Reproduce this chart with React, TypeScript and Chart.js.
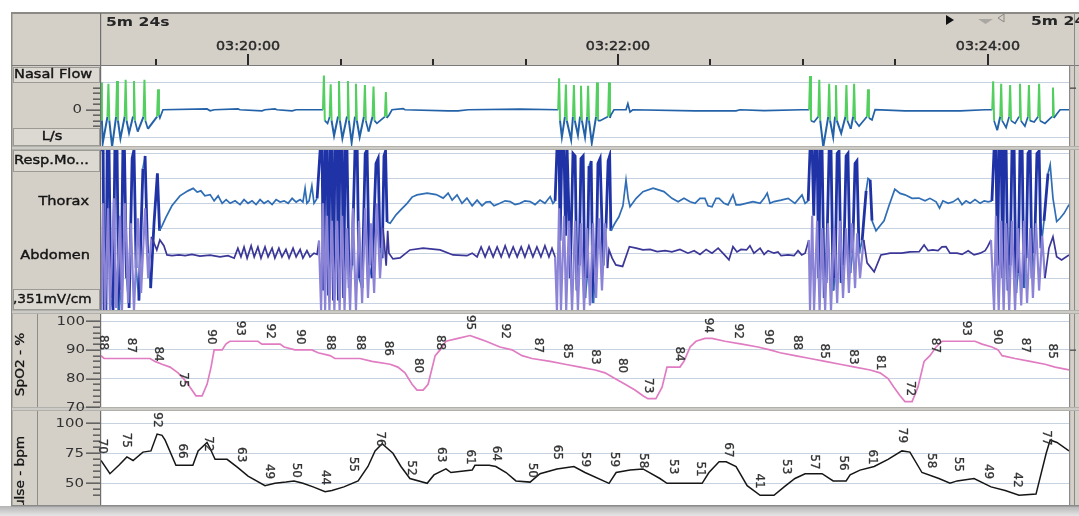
import React, { useEffect, useRef } from 'react';
import { Chart, registerables } from 'chart.js';

Chart.register(...registerables);

type Pt = [number, number];

// ---------- time axis (seconds after 03:19:00) ----------
const windowStart = 12.3;
const windowEnd = 326.3;
const timeTicks = [30, 60, 90, 120, 150, 180, 210, 240, 270, 300];
const timeLabelValues = [60, 180, 300];
const timeLabelTexts = ['03:20:00', '03:22:00', '03:24:00'];
const windowLengthText = '5m 24s';

// ---------- panel axes ----------
const nasalRange = [-1.4, 1.6];
const nasalGrid = [1, -1];
const nasalTickMarks = [0.8, 0.6, 0.4, 0.2, 0, -0.2, -0.4, -0.6];
const nasalMajorTicks = [0];

const respRange = [-3.36, 3.22];
const respGrid = [3, 2, 1, 0, -1, -2, -3];

const spo2Range = [69.4, 103.2];
const spo2Grid = [100, 90, 80, 70];
const spo2TickMarks = [70, 72, 74, 76, 78, 80, 82, 84, 86, 88, 90, 92, 94, 96, 98, 100];
const spo2MajorTicks = [70, 80, 90, 100];

const pulseRange = [31.1, 111.9];
const pulseGrid = [100, 75, 50];
const pulseTickMarks = [40, 45, 50, 55, 60, 65, 70, 75, 80, 85, 90, 95, 100];
const pulseMajorTicks = [50, 75, 100];

// ---------- signals [time s, value] ----------
const nasalFlow: Pt[] = [
  [12.3, 1.0], [12.6, -0.4], [12.9, -1.2], [14.4, -0.25],
  [14.7, 0.95], [15.0, -0.4], [15.9, -1.35], [17.2, -0.25],
  [17.5, 1.05], [17.8, -0.4], [18.6, -1.05], [20.0, -0.25],
  [20.3, 1.1], [20.6, -0.4], [21.4, -0.85], [22.7, -0.25],
  [23.0, 1.05], [23.3, -0.4], [24.2, -0.8], [26.1, -0.25],
  [26.4, 1.1], [26.7, -0.4], [27.5, -0.7], [30.5, -0.25],
  [30.8, 0.75], [31.1, -0.2], [31.4, -0.3], [32.4, 0],
  [46.7, 0.03], [47.7, -0.04], [49.0, 0], [56.7, 0.03], [57.4, 0], [64.5, -0.04], [65.5, 0],
  [68.7, 0.03], [69.4, 0], [74.3, -0.04], [75.6, 0], [84.3, 0],
  [84.6, 1.25], [84.9, -0.4], [85.8, -0.5], [86.5, -0.25],
  [86.8, 0.93], [87.1, -0.4], [87.9, -0.95], [89.2, -0.25],
  [89.5, 1.05], [89.8, -0.4], [90.6, -1.05], [92.1, -0.25],
  [92.4, 1.05], [92.7, -0.4], [93.6, -1.2], [94.7, -0.25],
  [95.0, 0.95], [95.3, -0.4], [96.2, -1.0], [97.6, -0.25],
  [97.9, 0.9], [98.2, -0.4], [99.1, -0.8], [100.4, -0.25],
  [100.7, 0.85], [101.0, -0.4], [101.8, -0.5], [104.4, -0.25],
  [104.7, 0.65], [105.0, -0.3], [105.7, -0.2], [106.7, 0],
  [110.3, 0.04], [110.9, 0], [124.9, -0.04], [128.1, -0.04], [131.4, 0], [148.2, 0.02], [160.6, 0],
  [160.9, 1.15], [161.2, -0.4], [161.8, -1.0], [162.8, -0.25],
  [163.1, 0.92], [163.4, -0.4], [164.8, -1.1], [165.4, -0.25],
  [165.7, 0.9], [166.0, -0.4], [167.0, -0.93], [167.7, -0.25],
  [168.0, 0.88], [168.3, -0.4], [169.3, -1.0], [170.0, -0.25],
  [170.3, 0.88], [170.6, -0.4], [171.5, -1.22], [172.9, -0.25],
  [173.2, 1.0], [173.5, -0.4], [174.2, -0.4], [176.8, -0.25],
  [177.1, 1.0], [177.4, -0.3], [177.7, -0.2], [178.7, 0],
  [182.6, 0], [183.2, 0.22], [183.9, -0.08], [184.8, 0], [205.0, -0.04], [218.3, -0.04], [219.6, 0],
  [227.4, -0.03], [239.7, 0], [242.0, 0],
  [242.3, 1.23], [242.6, -0.4], [243.6, -0.45], [245.0, -0.25],
  [245.3, 1.1], [245.6, -0.4], [246.6, -1.36], [248.2, -0.25],
  [248.5, 0.95], [248.8, -0.4], [249.8, -1.0], [250.4, -0.25],
  [250.7, 0.9], [251.0, -0.4], [252.4, -0.86], [253.8, -0.25],
  [254.1, 0.9], [254.4, -0.4], [255.5, -0.7], [256.3, -0.25],
  [256.6, 0.95], [256.9, -0.4], [258.2, -0.6], [260.8, -0.25],
  [261.1, 0.75], [261.4, -0.3], [262.4, -0.37], [263.4, 0],
  [273.1, -0.04], [291.0, -0.04], [299.1, 0], [301.4, 0],
  [301.7, 1.04], [302.0, -0.4], [303.0, -0.75], [304.0, -0.25],
  [304.3, 0.95], [304.6, -0.4], [305.9, -0.65], [306.9, -0.25],
  [307.2, 0.9], [307.5, -0.4], [308.8, -0.5], [310.1, -0.25],
  [310.4, 0.95], [310.7, -0.4], [312.0, -0.6], [313.0, -0.25],
  [313.3, 0.9], [313.6, -0.4], [315.0, -0.45], [316.3, -0.25],
  [316.6, 0.95], [316.9, -0.4], [318.5, -0.5], [320.8, -0.25],
  [321.1, 0.81], [321.4, -0.3], [322.4, -0.15], [323.4, 0], [326.3, 0],
];

const thorax: Pt[] = [
  [12.3, 3.15], [13.0, 3.15], [13.3, -3.3], [13.9, -3.3], [14.3, 3.15], [14.9, 3.15], [15.5, -2.8], [16.2, -3.3],
  [16.8, 3.15], [17.5, 3.15], [18.1, -3.3], [18.8, -2.5], [19.4, 3.15], [19.9, 3.15], [20.6, -2.0], [21.4, -3.2],
  [22.4, 2.8], [23.0, 3.15], [23.7, -1.6], [24.6, -2.9], [25.9, 2.4], [26.6, 2.9], [27.4, -1.0], [28.4, -2.4],
  [29.5, 0.2], [30.6, 2.2], [31.3, -0.1], [32.1, 0.1],
  [33.4, 0.45], [35.3, 0.9], [37.9, 1.3], [40.5, 1.5], [42.2, 1.6], [43.5, 1.45], [44.7, 1.5], [46.0, 1.3],
  [47.7, 1.35], [49.0, 1.1], [50.3, 1.3], [51.6, 1.0], [52.9, 1.15], [54.2, 1.0], [55.8, 1.1], [57.4, 0.95],
  [58.7, 1.15], [60.0, 1.0], [61.3, 1.1], [62.6, 0.95], [63.9, 1.15], [65.2, 1.0], [66.5, 1.1], [67.8, 0.95],
  [69.1, 1.15], [70.4, 1.05], [71.7, 1.1], [73.0, 1.0], [74.3, 1.2], [75.6, 1.05], [76.9, 1.15], [77.8, 1.05],
  [78.5, 1.6], [79.1, 1.0], [79.8, 1.1], [80.7, 1.7], [81.4, 1.0], [82.4, 1.2],
  [83.4, 3.15], [84.0, 3.15], [84.5, -2.5], [85.0, 3.15], [85.6, 3.15], [86.1, -2.7], [86.6, 3.15], [87.2, 3.15],
  [87.7, -2.9], [88.2, 3.15], [88.9, 3.15], [89.3, -2.9], [89.8, 3.15], [90.5, 3.15], [91.0, -2.8], [91.5, 3.15],
  [92.1, 3.15], [92.8, -2.4], [93.7, -1.5], [94.7, 3.15], [95.4, 3.15], [96.0, -2.0], [97.0, -2.4], [98.0, 3.0],
  [98.6, 3.15], [99.3, -1.5], [100.2, -2.0], [101.5, 2.6], [102.2, 2.8], [102.8, -0.8], [103.5, -1.2], [104.1, 2.9],
  [104.6, 3.1], [105.1, 0.25],
  [106.1, 0.2], [108.0, 0.54], [110.0, 0.8], [111.6, 1.0], [113.2, 1.25], [114.8, 1.34], [118.1, 1.41], [121.0, 1.35],
  [123.3, 1.21], [124.9, 1.41], [126.2, 1.13], [127.8, 1.34], [129.4, 1.0], [131.0, 1.21], [132.7, 0.9], [134.3, 1.13],
  [135.9, 0.9], [137.2, 1.05], [138.5, 1.07], [139.8, 0.9], [141.7, 1.0], [143.4, 1.1], [145.0, 1.07], [146.6, 0.95],
  [148.2, 1.0], [149.8, 1.1], [151.5, 1.07], [153.1, 0.95], [154.7, 1.13], [156.3, 1.0], [158.0, 1.27], [158.9, 1.0],
  [159.6, 1.1],
  [160.2, 3.15], [160.9, 3.15], [161.2, -0.5], [161.8, 3.15], [162.5, 3.15], [163.0, -0.3], [163.5, 3.15], [164.0, 1.0],
  [164.5, -2.0], [165.4, 3.0], [166.1, 2.9], [166.7, -2.5], [167.4, -1.5], [168.0, 2.8], [168.7, 2.9], [169.3, -2.8],
  [170.0, -2.0], [170.6, 2.5], [171.3, 2.7], [171.9, -3.0], [172.9, -1.8], [173.5, 2.6], [174.2, 2.8], [175.2, -1.5],
  [176.1, 0.0], [176.8, 2.7], [177.3, 2.9], [177.7, -0.1],
  [179.0, 0.2], [180.3, 0.46], [181.6, 0.9], [182.6, 1.94], [183.3, 1.2], [183.9, 0.86], [185.9, 1.2], [188.1, 1.47],
  [191.4, 1.61], [194.9, 1.47], [197.5, 1.2], [199.5, 1.06], [201.4, 1.2], [203.4, 1.06], [205.0, 1.0], [206.6, 1.2],
  [208.2, 1.2], [209.2, 0.9], [210.5, 0.86], [211.8, 1.2], [212.8, 1.2], [214.4, 1.0], [215.7, 0.94], [217.3, 1.34],
  [218.3, 0.94], [219.6, 0.94], [221.5, 1.0], [223.8, 1.07], [226.1, 1.0], [227.4, 1.2], [228.4, 1.41], [229.3, 1.0],
  [230.6, 1.07], [232.9, 1.13], [235.2, 1.2], [237.4, 1.0], [239.7, 1.34], [240.7, 1.0], [241.7, 1.1],
  [242.3, 3.15], [243.0, 3.15], [243.5, 0.5], [244.0, 3.15], [244.6, 3.15], [245.1, -2.0], [245.6, 3.15], [246.2, 3.15],
  [246.9, -2.8], [247.5, -2.2], [248.5, 3.15], [249.1, 3.15], [249.8, -2.5], [250.4, -2.0], [251.1, 3.0], [251.7, 3.1],
  [252.4, -2.2], [253.2, -1.5], [254.0, 2.9], [254.6, 3.0], [255.3, -1.8], [256.1, -1.0], [256.9, 2.6], [257.5, 2.7],
  [258.2, -1.0], [259.2, -0.5], [260.5, 1.5], [261.1, 2.0], [261.8, 1.94], [262.4, 0.3],
  [263.7, -0.1], [265.0, 0.1], [266.3, 0.3], [267.9, 0.9], [269.8, 1.57], [271.5, 1.4], [273.1, 1.34], [275.4, 1.2],
  [277.6, 1.21], [279.6, 1.1], [281.2, 1.2], [283.2, 1.06], [284.3, 0.81], [285.4, 1.1], [287.1, 1.0], [288.7, 1.06],
  [290.3, 1.2], [291.6, 0.95], [292.9, 1.1], [294.2, 1.0], [295.8, 1.15], [297.5, 1.0], [298.8, 1.1], [300.1, 1.06],
  [301.3, 1.1],
  [302.0, 3.15], [302.6, 3.15], [303.1, -1.5], [303.6, 3.15], [304.3, 3.15], [304.8, -2.0], [305.2, 3.15], [305.9, 3.15],
  [306.5, -2.5], [307.2, -1.5], [307.8, 3.15], [308.5, 3.15], [309.1, -2.6], [309.8, -1.8], [310.4, 3.15], [311.1, 3.15],
  [311.7, -2.4], [312.4, -1.2], [313.0, 3.0], [313.7, 3.15], [314.3, -2.0], [315.1, -1.0], [315.9, 3.0], [316.6, 3.1],
  [317.2, -0.8], [318.2, 0.3], [319.5, 2.2], [320.2, 2.55], [321.1, 1.2], [322.3, 0.27], [323.4, 0.4], [324.7, 0.6],
  [326.3, 0.95],
];

const abdomen: Pt[] = [
  [12.3, -3.3], [13.0, 1.0], [13.6, -3.3], [14.6, 0.8], [15.2, -3.3], [16.5, 1.2], [17.2, -3.2], [18.5, 0.5],
  [19.1, -3.3], [20.1, 1.0], [21.1, -3.0], [22.0, 0.2], [23.0, -3.3], [24.3, 0.4], [25.3, -2.6], [26.6, 0.8],
  [27.6, -2.0], [28.7, -0.34], [30.4, -0.87], [31.4, -0.47], [32.7, -0.7], [33.7, -1.07], [35.3, -1.1], [37.6, -1.07],
  [39.6, -1.1], [41.8, -1.05], [44.4, -1.12], [47.7, -1.08], [50.9, -1.15], [53.5, -1.1], [55.5, -1.2], [56.7, -0.8],
  [57.7, -1.15], [58.7, -0.75], [59.7, -1.2], [61.0, -0.7], [62.0, -1.15], [63.2, -0.75], [64.2, -1.2], [65.5, -0.75],
  [66.5, -1.15], [67.8, -0.8], [68.7, -1.2], [70.0, -0.8], [71.0, -1.15], [72.3, -0.85], [73.3, -1.2], [74.6, -0.8],
  [75.6, -1.15], [76.9, -0.85], [77.8, -1.2], [79.1, -0.9], [80.1, -1.15], [81.4, -1.0], [82.4, -1.05],
  [83.0, -0.5], [83.7, -3.3], [84.3, 1.0], [85.0, -3.3], [85.6, 0.5], [86.4, -3.3], [87.2, 0.3], [88.0, -3.3],
  [88.9, 0.3], [89.7, -3.3], [90.5, 0.5], [91.3, -3.3], [92.1, 0.0], [93.1, -3.3], [94.0, 0.8], [95.0, -3.3],
  [96.0, 0.3], [97.0, -3.0], [98.0, 0.8], [98.9, -2.8], [99.9, 0.2], [100.9, -2.6], [101.8, 1.0], [102.8, -2.0],
  [103.8, 0.0], [104.8, -1.5], [105.3, -0.1], [105.7, -1.0], [107.0, -1.23], [109.3, -1.19], [112.5, -0.87], [116.8, -0.8],
  [122.3, -0.87], [126.5, -1.07], [131.0, -1.1], [132.7, -1.0], [134.3, -1.15], [135.6, -0.75], [136.9, -1.15], [138.2, -0.75],
  [139.5, -1.15], [140.8, -0.75], [142.1, -1.15], [143.4, -0.7], [144.7, -1.15], [146.0, -0.75], [147.3, -1.15], [148.6, -0.75],
  [149.8, -1.15], [151.1, -0.7], [152.4, -1.15], [153.7, -0.75], [155.0, -1.15], [156.3, -0.7], [157.6, -1.15], [158.6, -0.8],
  [159.6, -1.15],
  [160.2, -3.3], [160.9, 0.8], [161.5, -3.3], [162.5, 0.5], [163.2, -3.3], [164.1, 0.3], [165.1, -3.3], [166.1, 0.3],
  [167.0, -3.3], [168.0, 0.2], [169.0, -3.3], [170.0, 0.0], [170.9, -3.1], [171.9, 0.2], [172.9, -2.8], [173.8, 0.4],
  [174.8, -2.5], [175.8, 0.2], [176.6, -1.6], [177.1, -0.87], [178.1, -1.2], [179.3, -1.47], [181.5, -1.53], [183.7, -0.74],
  [185.9, -0.8], [188.1, -0.87], [190.4, -0.85], [192.7, -0.94], [195.3, -0.9], [197.5, -0.95], [200.1, -0.85], [202.7, -1.0],
  [204.7, -0.9], [206.6, -1.05], [208.6, -0.85], [210.5, -1.0], [212.5, -0.8], [214.4, -1.05], [216.0, -1.27], [217.3, -0.74],
  [218.6, -0.95], [219.9, -0.85], [221.7, -0.87], [222.8, -0.7], [224.1, -1.0], [226.1, -0.8], [227.4, -1.05], [228.7, -0.9],
  [230.6, -1.0], [231.9, -0.95], [232.9, -1.1], [235.2, -1.07], [237.1, -1.1], [238.4, -0.9], [239.6, -1.07], [240.7, -1.0],
  [241.9, -0.47],
  [242.3, -3.3], [243.0, 0.5], [243.6, -3.3], [244.6, 0.3], [245.4, -3.3], [246.2, 0.0], [247.2, -3.3], [248.1, 0.2],
  [249.1, -3.3], [250.1, 0.0], [251.1, -3.0], [252.0, 0.3], [253.0, -2.8], [254.0, 0.0], [254.9, -2.6], [255.9, 0.2],
  [256.9, -2.4], [257.6, -0.2], [258.5, -2.0], [259.7, -0.47], [260.8, -1.39], [263.1, -1.75], [265.3, -1.07], [268.3, -1.0],
  [272.0, -1.0], [274.7, -0.95], [277.7, -0.94], [279.3, -0.67], [280.6, -0.9], [282.1, -0.87], [283.8, -0.9], [285.1, -0.75],
  [286.4, -0.74], [287.7, -1.0], [290.0, -1.0], [291.6, -1.05], [293.6, -0.9], [295.5, -1.07], [297.5, -1.0], [299.1, -0.9],
  [299.9, -0.74], [301.0, -0.47],
  [302.0, -3.3], [302.6, 0.5], [303.5, -3.3], [304.3, 0.3], [305.1, -3.3], [305.9, 0.2], [306.9, -3.3], [307.8, 0.3],
  [308.8, -3.3], [309.8, 0.0], [310.8, -3.1], [311.7, 0.3], [312.7, -3.0], [313.7, 0.0], [314.6, -2.8], [315.6, 0.2],
  [316.6, -2.5], [317.6, -0.3], [318.5, -2.0], [319.8, -0.8], [321.1, -0.34], [322.3, -1.14], [323.9, -1.27], [326.3, -1.07],
];

const spo2: Pt[] = [
  [12.3, 88], [13.3, 87], [28.2, 87], [29.8, 86], [32.1, 85], [34.7, 84], [37.3, 82], [39.9, 79], [41.8, 76], [43.1, 74],
  [45.1, 74], [46.7, 78], [48.0, 84], [49.0, 90], [51.6, 90], [52.8, 92], [54.1, 93], [63.2, 93], [64.5, 92], [70.4, 92],
  [71.7, 91], [75.2, 90], [80.7, 90], [82.7, 89], [86.6, 88], [88.2, 87], [96.3, 87], [100.2, 86], [106.1, 85], [108.6, 84],
  [110.9, 82], [113.2, 78], [114.8, 76], [116.8, 76], [118.4, 78], [120.7, 88], [122.3, 90], [124.2, 93], [128.1, 94], [132.0, 95],
  [134.6, 94], [137.2, 93], [141.7, 91], [145.6, 90], [148.9, 88], [152.1, 87], [158.0, 86], [162.8, 85], [167.7, 84], [172.6, 83],
  [175.8, 82], [179.0, 80], [182.3, 78], [185.5, 76], [188.1, 74], [189.7, 73], [192.3, 73], [194.3, 77], [195.9, 84], [200.1, 84],
  [201.4, 86], [203.4, 91], [205.3, 93], [208.2, 94], [210.5, 94], [214.7, 93], [220.2, 92], [225.4, 91], [229.3, 90], [232.6, 89],
  [237.4, 88], [242.3, 87], [247.2, 86], [252.0, 85], [256.9, 84], [261.8, 83], [265.0, 82], [267.6, 80], [269.5, 77], [271.5, 74],
  [273.1, 72], [275.4, 72], [277.3, 77], [279.3, 86], [281.2, 88], [283.2, 91], [285.1, 93], [295.8, 93], [298.1, 92], [301.3, 91],
  [303.3, 90], [304.6, 88], [308.8, 87], [313.7, 86], [318.5, 85], [321.8, 84], [326.3, 83],
];

const spo2Labels: Pt[] = [
  [12.9, 88], [22.0, 87], [30.8, 84], [38.9, 75], [48.0, 90], [57.4, 93], [67.1, 92], [76.9, 90], [86.6, 88], [96.3, 88],
  [105.4, 86], [115.1, 80], [122.3, 88], [132.0, 95], [143.4, 92], [154.1, 87], [163.5, 85], [172.6, 83], [181.3, 80], [189.7, 73],
  [199.7, 84], [209.1, 94], [218.9, 92], [228.7, 90], [238.1, 88], [246.8, 85], [256.2, 83], [265.0, 81], [274.7, 72], [282.8, 87],
  [292.9, 93], [303.0, 90], [312.0, 87], [320.8, 85],
];

const pulse: Pt[] = [
  [12.3, 69], [15.2, 58], [18.1, 65], [20.7, 72], [22.7, 69], [25.9, 76], [28.5, 77], [30.5, 91], [32.1, 90], [33.1, 86],
  [36.6, 65], [42.1, 65], [43.8, 77], [46.7, 84], [47.7, 79], [49.3, 70], [53.2, 70], [56.7, 63], [60.0, 56], [65.5, 48],
  [68.7, 50], [72.3, 51], [74.9, 52], [77.8, 50], [81.1, 47], [85.0, 43], [87.2, 44], [91.1, 47], [95.7, 52], [98.9, 64],
  [101.2, 77], [103.5, 83], [107.0, 75], [109.6, 64], [112.5, 54], [118.1, 50], [120.3, 57], [124.2, 62], [125.8, 59], [132.7, 61],
  [133.6, 65], [138.2, 65], [140.4, 64], [143.7, 59], [146.9, 52], [151.5, 51], [154.7, 58], [160.2, 62], [165.7, 64], [169.3, 59],
  [177.1, 50], [179.4, 59], [183.9, 61], [188.1, 62], [193.6, 54], [195.9, 50], [207.3, 50], [209.5, 59], [212.8, 68], [215.1, 68],
  [218.3, 64], [221.9, 48], [226.1, 40], [230.6, 40], [233.9, 47], [237.4, 54], [240.7, 58], [246.2, 58], [249.8, 52], [254.0, 52],
  [255.3, 57], [258.5, 61], [263.1, 64], [267.6, 70], [272.1, 77], [274.7, 76], [278.6, 59], [284.1, 54], [287.7, 50], [290.0, 52],
  [295.5, 54], [301.0, 47], [305.6, 44], [310.1, 40], [315.6, 41], [318.9, 75], [320.2, 86], [322.4, 84], [326.3, 77],
];

const pulseLabels: Pt[] = [
  [12.6, 70], [20.4, 75], [30.5, 92], [38.6, 66], [47.0, 72], [57.7, 63], [66.8, 49], [75.6, 50], [85.0, 44], [94.0, 55],
  [102.8, 76], [112.9, 52], [122.6, 63], [132.0, 61], [140.4, 64], [152.1, 50], [160.2, 65], [169.3, 59], [178.7, 59], [188.1, 58],
  [197.9, 53], [206.6, 51], [215.7, 67], [225.8, 41], [234.5, 53], [243.6, 57], [253.0, 56], [262.4, 61], [272.1, 79], [281.6, 58],
  [290.3, 55], [300.0, 49], [309.5, 42], [318.9, 77],
];

// ---------- styling ----------
const FONT = '"DejaVu Sans", "Liberation Sans", sans-serif';
const GREY = '#d4d0c8';
const CELL = '#dcd9d2';
const GRID = '#c6d2df';
const GREEN = '#52cf5e';
const FLOW_BLUE = '#2362a8';
const THORAX = '#2f6db5';
const THORAX_BURST = '#1f33a6';
const ABDOMEN = '#3b3798';
const ABDOMEN_BURST = '#8b83d6';
const SPO2 = '#e07cc2';
const PULSE = '#161616';

const toXY = (a: Pt[]) => a.map(([x, y]) => ({ x, y }));

function drawText(ctx: CanvasRenderingContext2D, s: string, x: number, y: number, o: any = {}) {
  ctx.save();
  ctx.font = o.font || `13px ${FONT}`;
  ctx.fillStyle = o.color || '#141414';
  ctx.textBaseline = 'middle';
  ctx.textAlign = o.align || 'left';
  ctx.translate(x, y);
  if (o.rotate) ctx.rotate(o.rotate);
  ctx.scale(o.stretch || 1, 1);
  ctx.fillText(s, 0, 0);
  if (o.heavy) {
    ctx.strokeStyle = o.color || '#141414';
    ctx.lineWidth = o.heavy;
    ctx.strokeText(s, 0, 0);
  }
  ctx.restore();
}

const panelPlugin = {
  id: 'psgPanels',
  beforeDraw(chart: any) {
    const { ctx, chartArea: ca } = chart;
    const W = chart.width, H = chart.height;
    const s = chart.scales;
    ctx.save();
    ctx.fillStyle = '#ffffff';
    ctx.fillRect(0, 0, W, H);
    const g = ctx.createLinearGradient(0, ca.bottom, 0, H);
    g.addColorStop(0, '#b4b4b4');
    g.addColorStop(1, '#e6e6e6');
    ctx.fillStyle = g;
    ctx.fillRect(0, ca.bottom, W, H - ca.bottom);
    ctx.fillStyle = GREY;
    ctx.fillRect(12, 13, W - 12, ca.bottom - 13);
    ctx.fillStyle = '#ffffff';
    ctx.fillRect(ca.left, ca.top, ca.right - ca.left, ca.bottom - ca.top);
    const cell = (y0: number, y1: number) => {
      ctx.fillStyle = CELL;
      ctx.fillRect(13, y0, ca.left - 14, y1 - y0);
      ctx.strokeStyle = '#9c9a94';
      ctx.lineWidth = 1;
      ctx.strokeRect(13.5, y0 + 0.5, ca.left - 15, y1 - y0 - 1);
    };
    const n = s.yNasal, r = s.yResp;
    cell(n.top + 1, n.top + 17);
    cell(n.bottom - 20, n.bottom - 2);
    cell(r.top + 2, r.top + 24);
    cell(r.bottom - 23, r.bottom - 2);
    ctx.restore();
  },
  afterDraw(chart: any) {
    const { ctx, chartArea: ca } = chart;
    const W = chart.width;
    const s = chart.scales;
    const x = s.x, n = s.yNasal, r = s.yResp, o = s.ySpo2, p = s.yPulse;
    ctx.save();

    // frame lines
    ctx.fillStyle = '#8c8a84';
    ctx.fillRect(12, 12, W - 12, 2);
    ctx.fillRect(11, 12, 1.5, ca.bottom - 12);
    ctx.fillStyle = '#6e6e6e';
    ctx.fillRect(ca.left - 1, 13, 1.2, ca.bottom - 13);
    ctx.fillStyle = '#7a7a7a';
    ctx.fillRect(12, ca.top - 1, W - 12, 1);
    ctx.fillStyle = '#8a8a8a';
    ctx.fillRect(ca.right, ca.top, 1.2, ca.bottom - ca.top);
    ctx.fillRect(W - 5, 13, 1, ca.bottom - 13);
    ctx.fillStyle = '#8c8c8c';
    ctx.fillRect(37, o.top, 1, p.bottom - o.top);

    // separators between panels
    for (const b of [n.bottom, r.bottom, o.bottom]) {
      ctx.fillStyle = '#b2b0aa';
      ctx.fillRect(12, b - 2, W - 12, 4);
      ctx.fillStyle = '#e6e5e1';
      ctx.fillRect(12, b - 0.5, W - 12, 1);
    }
    ctx.fillStyle = '#8a8a8a';
    ctx.fillRect(11, ca.bottom - 1, W - 11, 1.5);

    // time ticks and labels
    ctx.fillStyle = '#2a2a2a';
    for (const t of timeTicks) {
      const px = x.getPixelForValue(t);
      const major = timeLabelValues.includes(t);
      const y0 = major ? ca.top - 12 : ca.top - 7;
      ctx.fillRect(Math.round(px) - 1, y0, 2, ca.top - 1 - y0);
    }
    timeLabelValues.forEach((t, i) => {
      drawText(ctx, timeLabelTexts[i], x.getPixelForValue(t), 47, { align: 'center', stretch: 1.1, color: '#2a2a2a', heavy: 0.45 });
    });
    drawText(ctx, windowLengthText, 106, 23, { font: `bold 13px ${FONT}`, stretch: 1.2, color: '#262626' });
    drawText(ctx, windowLengthText, 1031, 22, { font: `bold 13px ${FONT}`, stretch: 1.2, color: '#262626' });
    ctx.fillStyle = '#111';
    ctx.beginPath(); ctx.moveTo(946, 15); ctx.lineTo(954, 20); ctx.lineTo(946, 25); ctx.closePath(); ctx.fill();
    ctx.fillStyle = '#a9a7a2';
    ctx.beginPath(); ctx.moveTo(978, 19); ctx.lineTo(993, 19); ctx.lineTo(985.5, 24); ctx.closePath(); ctx.fill();
    ctx.strokeStyle = '#8a8884'; ctx.lineWidth = 1;
    ctx.beginPath(); ctx.moveTo(1004, 14); ctx.lineTo(998, 18); ctx.lineTo(1004, 22); ctx.closePath(); ctx.stroke();

    // left tick marks
    const tickMarks = (sc: any, vals: number[], majors: number[]) => {
      ctx.fillStyle = '#4a4a4a';
      for (const v of vals) {
        const py = Math.round(sc.getPixelForValue(v));
        const len = majors.includes(v) ? 14 : 7;
        ctx.fillRect(ca.left - 1 - len, py - 0.5, len, 1.3);
      }
    };
    tickMarks(n, nasalTickMarks, nasalMajorTicks);
    tickMarks(o, spo2TickMarks, spo2MajorTicks);
    tickMarks(p, pulseTickMarks, pulseMajorTicks);
    nasalMajorTicks.forEach((v) => drawText(ctx, String(v), 82, n.getPixelForValue(v), { align: 'right', stretch: 1.15, color: '#333' }));
    spo2MajorTicks.forEach((v) => drawText(ctx, String(v), 85, o.getPixelForValue(v), { align: 'right', stretch: 1.15, color: '#333' }));
    pulseMajorTicks.forEach((v) => drawText(ctx, String(v), 84, p.getPixelForValue(v), { align: 'right', stretch: 1.15, color: '#333' }));
    ctx.fillStyle = '#4a4a4a';
    ctx.fillRect(ca.right + 1, Math.round(o.getPixelForValue(90)) - 0.5, 6, 1.3);
    ctx.fillRect(ca.right + 1, Math.round(n.getPixelForValue(0.8)) - 0.5, 6, 1.3);

    // panel captions
    const cap = { stretch: 1.12, heavy: 0.4 };
    drawText(ctx, 'Nasal Flow', 14, n.top + 9, cap);
    drawText(ctx, 'L/s', 52, n.bottom - 11, { ...cap, align: 'center' });
    drawText(ctx, 'Resp.Mo...', 14, r.top + 13, cap);
    drawText(ctx, 'Thorax', 89, r.getPixelForValue(1.05), { ...cap, align: 'right' });
    drawText(ctx, 'Abdomen', 90, r.getPixelForValue(-1.1), { ...cap, align: 'right' });
    drawText(ctx, ',351mV/cm', 13, r.bottom - 12, { ...cap, stretch: 1.05 });
    drawText(ctx, 'SpO2 - %', 21, (o.top + o.bottom) / 2 + 4, { align: 'center', rotate: -Math.PI / 2, stretch: 1.05, heavy: 0.3 });
    ctx.save();
    ctx.beginPath();
    ctx.rect(12, p.top, 25, p.bottom - p.top - 1);
    ctx.clip();
    drawText(ctx, 'Pulse - bpm', 21, p.top + 67, { align: 'center', rotate: -Math.PI / 2, stretch: 1.05, heavy: 0.3 });
    ctx.restore();

    // value annotations
    const valueLabels = (sc: any, arr: Pt[]) => {
      for (const [t, v] of arr) {
        drawText(ctx, String(v), x.getPixelForValue(t), sc.getPixelForValue(v) - 13, {
          font: `12px ${FONT}`, align: 'center', rotate: Math.PI / 2, color: '#333333', heavy: 0.3,
        });
      }
    };
    valueLabels(o, spo2Labels);
    valueLabels(p, pulseLabels);
    ctx.restore();
  },
};

function yAxis(range: number[], weight: number, stackWeight: number, grid: number[]) {
  return {
    type: 'linear',
    position: 'left',
    stack: 'panels',
    stackWeight,
    weight,
    min: range[0],
    max: range[1],
    offset: false,
    afterBuildTicks: (sc: any) => { sc.ticks = grid.map((v) => ({ value: v })); },
    afterFit: (sc: any) => { sc.width = 64; },
    ticks: { display: false },
    grid: { color: GRID, lineWidth: 1, drawTicks: false },
    border: { display: false },
  };
}

export default function App() {
  const ref = useRef<HTMLCanvasElement | null>(null);
  useEffect(() => {
    if (!ref.current) return;
    const bigSwing = (c: any) => Math.abs(c.p0.parsed.y - c.p1.parsed.y) > 1.5;
    const chart = new Chart(ref.current, {
      type: 'line',
      data: {
        datasets: [
          {
            label: 'Abdomen', data: toXY(abdomen), yAxisID: 'yResp', xAxisID: 'x', borderColor: ABDOMEN, borderWidth: 1.7,
            segment: {
              borderColor: (c: any) => (bigSwing(c) || (c.p0.parsed.y < -3 && c.p1.parsed.y < -3)) ? ABDOMEN_BURST : ABDOMEN,
              borderWidth: (c: any) => (bigSwing(c) ? 2.2 : 1.7),
            },
          },
          {
            label: 'Thorax', data: toXY(thorax), yAxisID: 'yResp', xAxisID: 'x', borderColor: THORAX, borderWidth: 1.7,
            segment: {
              borderColor: (c: any) => (bigSwing(c) || (c.p0.parsed.y > 2.5 && c.p1.parsed.y > 2.5)) ? THORAX_BURST : THORAX,
              borderWidth: (c: any) => (bigSwing(c) || (c.p0.parsed.y > 2.5 && c.p1.parsed.y > 2.5) ? 2.8 : 1.7),
            },
          },
          {
            label: 'Nasal Flow', data: toXY(nasalFlow), yAxisID: 'yNasal', xAxisID: 'x', borderColor: FLOW_BLUE, borderWidth: 1.7,
            segment: {
              borderColor: (c: any) => (c.p0.parsed.y > 0.3 || c.p1.parsed.y > 0.3) ? GREEN : FLOW_BLUE,
              borderWidth: (c: any) => (Math.abs(c.p0.parsed.y - c.p1.parsed.y) > 0.4 ? 2 : 1.7),
            },
          },
          { label: 'SpO2', data: toXY(spo2), yAxisID: 'ySpo2', xAxisID: 'x', borderColor: SPO2, borderWidth: 1.7 },
          { label: 'Pulse', data: toXY(pulse), yAxisID: 'yPulse', xAxisID: 'x', borderColor: PULSE, borderWidth: 1.5 },
        ],
      },
      options: {
        animation: false,
        responsive: false,
        maintainAspectRatio: false,
        devicePixelRatio: 1,
        layout: { padding: { left: 37, top: 13, right: 10, bottom: 10 } },
        plugins: { legend: { display: false }, tooltip: { enabled: false } },
        elements: { point: { radius: 0 }, line: { tension: 0 } },
        scales: {
          x: {
            type: 'linear',
            position: 'top',
            min: windowStart,
            max: windowEnd,
            afterBuildTicks: (sc: any) => { sc.ticks = timeTicks.map((v) => ({ value: v })); },
            afterFit: (sc: any) => { sc.height = 53; },
            ticks: { display: false },
            grid: { display: false },
            border: { display: false },
          },
          yNasal: yAxis(nasalRange, 4, 82, nasalGrid),
          yResp: yAxis(respRange, 3, 164, respGrid),
          ySpo2: yAxis(spo2Range, 2, 97, spo2Grid),
          yPulse: yAxis(pulseRange, 1, 97, pulseGrid),
        } as any,
      },
      plugins: [panelPlugin],
    } as any);
    return () => chart.destroy();
  }, []);
  return (
    <div style={{ position: 'fixed', left: 0, top: 0, width: 1079, height: 516, background: '#fff' }}>
      <canvas ref={ref} width={1079} height={516} style={{ display: 'block', width: 1079, height: 516 }} />
    </div>
  );
}
